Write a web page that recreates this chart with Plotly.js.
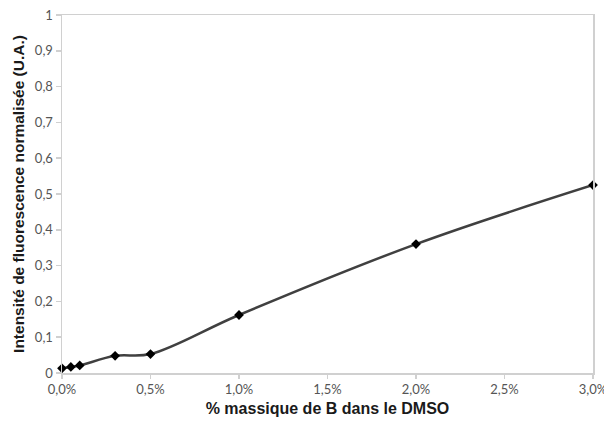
<!DOCTYPE html>
<html>
<head>
<meta charset="utf-8">
<script src="https://cdn.plot.ly/plotly-3.0.1.min.js"></script>
<style>html,body{margin:0;padding:0;background:#fff;}#chart{width:604px;height:421px;}</style>
</head>
<body>
<div id="chart"></div>
<script>
const massPercent = [0.0, 0.05, 0.1, 0.3, 0.5, 1.0, 2.0, 3.0];
const intensity = [0.013, 0.017, 0.021, 0.048, 0.053, 0.162, 0.360, 0.525];
const xTickVals = [0, 0.5, 1.0, 1.5, 2.0, 2.5, 3.0];
const xTickText = ['0,0%', '0,5%', '1,0%', '1,5%', '2,0%', '2,5%', '3,0%'];
const yTickVals = [0, 0.1, 0.2, 0.3, 0.4, 0.5, 0.6, 0.7, 0.8, 0.9, 1];
const yTickText = ['0', '0,1', '0,2', '0,3', '0,4', '0,5', '0,6', '0,7', '0,8', '0,9', '1'];

const trace = {
  x: massPercent,
  y: intensity,
  type: 'scatter',
  mode: 'lines+markers',
  line: {shape: 'spline', smoothing: 1, color: '#404040', width: 2.5},
  marker: {symbol: 'diamond', size: 7.5, color: '#000000'},
  cliponaxis: false,
  hoverinfo: 'none'
};

const tickFont = {family: 'Lato, "Open Sans", sans-serif', size: 13, color: '#555555'};
const xTitleFont = {family: '"Liberation Sans", Arial, sans-serif', size: 16, color: '#1a1a1a', weight: 'bold'};
const yTitleFont = {family: '"Liberation Sans", Arial, sans-serif', size: 15.5, color: '#1a1a1a', weight: 'bold'};

const layout = {
  width: 604,
  height: 421,
  margin: {l: 62, r: 11, t: 15, b: 48},
  paper_bgcolor: '#ffffff',
  plot_bgcolor: '#ffffff',
  showlegend: false,
  separators: ', ',
  xaxis: {
    range: [0, 3],
    tickvals: xTickVals,
    ticktext: xTickText,
    ticks: 'outside',
    ticklen: 4,
    tickwidth: 1.5,
    tickcolor: '#d0d0d0',
    showline: true,
    linecolor: '#d0d0d0',
    linewidth: 1.5,
    mirror: true,
    showgrid: false,
    zeroline: false,
    ticklabeloverflow: 'allow',
    tickfont: tickFont,
    title: {text: '% massique de B dans le DMSO', font: xTitleFont, standoff: 6}
  },
  yaxis: {
    range: [0, 1],
    tickvals: yTickVals,
    ticktext: yTickText,
    ticks: 'outside',
    ticklen: 5,
    tickwidth: 1.5,
    tickcolor: '#d0d0d0',
    showline: true,
    linecolor: '#d0d0d0',
    linewidth: 1.5,
    mirror: true,
    showgrid: false,
    zeroline: false,
    tickfont: tickFont,
    title: {text: 'Intensité de fluorescence normalisée (U.A.)', font: yTitleFont, standoff: 6}
  }
};

Plotly.newPlot('chart', [trace], layout, {displayModeBar: false, staticPlot: true});
</script>
</body>
</html>
